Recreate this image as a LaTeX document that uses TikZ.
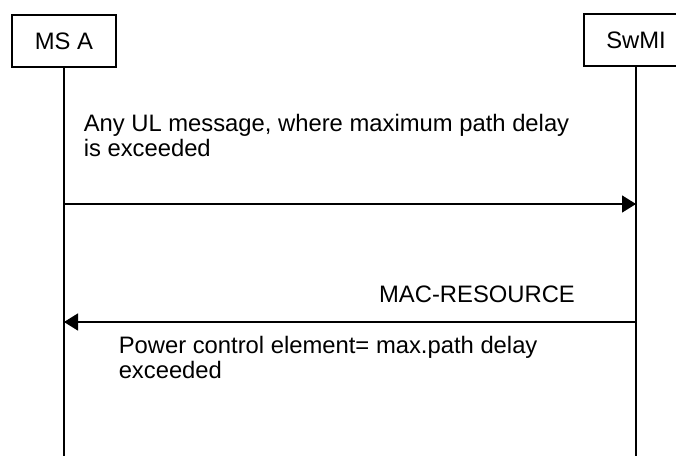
\documentclass[tikz,border=0pt]{standalone}
\usepackage{fontspec}
\setmainfont{Liberation Sans}
\usetikzlibrary{arrows.meta}

\tikzset{
  entity/.style={draw, minimum width=52pt, minimum height=26pt, inner sep=0pt},
  msg/.style={-{Triangle[length=7pt,width=8.5pt]}},
  msgtext/.style={anchor=base west, inner sep=0pt, align=left}
}

\begin{document}
\begin{tikzpicture}[x=0.5pt, y=-0.5pt, line width=0.75pt, font=\fontsize{11.9}{12.5}\selectfont]
    \useasboundingbox (0,0) rectangle (676,456);
    \clip (0,0) rectangle (676,456);

    % Entities and lifelines
    \node[entity] (msa) at (64,41) {MS A};
    \node[entity] (swmi) at (636,40) {SwMI};
    \coordinate (msaend) at (64,456);
    \coordinate (swmiend) at (636,456);
    \draw (msa) -- (msaend);
    \draw (swmi) -- (swmiend);

    % Messages
    \coordinate (ulfrom) at (64,204);
    \coordinate (ulto) at (636,204);
    \draw[msg] (ulfrom) -- (ulto);
    \node[msgtext] (ultext) at (83,156) {Any UL message, where maximum path delay\\is exceeded};

    \coordinate (macfrom) at (636,322);
    \coordinate (macto) at (64,322);
    \draw[msg] (macfrom) -- (macto);
    \node[msgtext, anchor=base] (mactext) at (477,302) {MAC-RESOURCE};
    \node[msgtext] (pcetext) at (118,378) {Power control element= max.path delay\\exceeded};
\end{tikzpicture}
\end{document}
